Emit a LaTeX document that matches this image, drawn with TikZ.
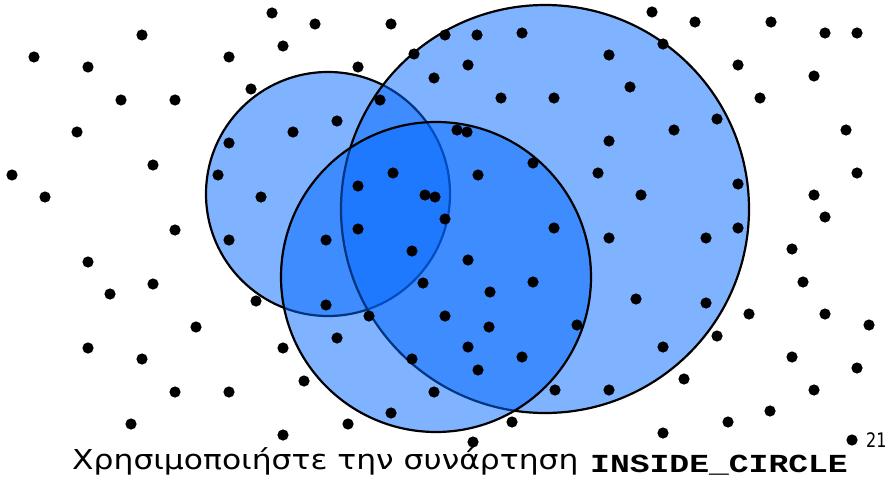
\documentclass[tikz,border=0pt]{standalone}
\usepackage{fontspec}
\setmainfont{DejaVu Sans}
\newfontfamily\monob{Liberation Mono}
\definecolor{circblue}{RGB}{0,102,255}
\tikzset{
  disc/.style={draw=black, line width=2.2pt, fill=circblue, fill opacity=0.5},
  pt/.style={fill=black},
}
\begin{document}
\begin{tikzpicture}[x=1pt,y=-1pt]
\useasboundingbox (0,0) rectangle (890,484);
% circles: left, big, middle
\path[disc] (328,194) circle (122);
\path[disc] (545,209) circle (204);
\path[disc] (436,277) circle (155);
% dots
\foreach \x/\y in {
272/13,142/35,283/46,34/57,229/57,88/67,251/89,121/100,175/100,293/132,77/132,229/143,153/165,12/175,218/175,261/197,45/197,175/230,229/240,
315/24,391/24,445/35,477/35,522/33,358/67,414/54,468/65,434/78,501/98,554/98,380/100,337/121,457/130,467/132,533/163,478/175,393/173,358/186,425/195,435/197,445/219,358/229,554/228,326/240,598/173,
652/12,695/22,771/22,825/33,857/33,663/44,609/55,738/65,814/76,630/87,760/98,717/119,674/130,846/130,609/141,857/173,738/184,641/195,814/195,825/217,738/228,609/238,706/238,792/249,
88/262,153/284,110/294,256/301,196/327,88/348,283/348,142/359,175/392,229/392,131/424,283/435,
412/251,468/260,423/283,490/292,533/282,326/305,369/316,445/316,489/327,577/325,337/338,468/347,412/359,522/357,478/370,304/381,434/392,555/390,391/413,348/424,512/422,473/442,
803/282,636/299,706/303,749/314,825/314,869/325,717/336,663/347,792/357,857/368,609/390,684/379,814/390,770/411,728/422,663/433,852/440}
  \fill[pt] (\x,\y) circle (5.6);
% text
\node[anchor=base west, inner sep=0pt] (greek) at (72,469) {\scalebox{1.145}[1]{\fontsize{27.4}{30}\selectfont Χρησιμοποιήστε την συνάρτηση}};
\node[anchor=base west, inner sep=0pt] (func) at (590,472) {\scalebox{1.27}[1]{\monob\bfseries\fontsize{26}{28}\selectfont INSIDE\_CIRCLE}};
\node[anchor=base west, inner sep=0pt] (pagenum) at (866,447) {\scalebox{0.8}[1]{\fontsize{20}{22}\selectfont 21}};
\end{tikzpicture}
\end{document}
